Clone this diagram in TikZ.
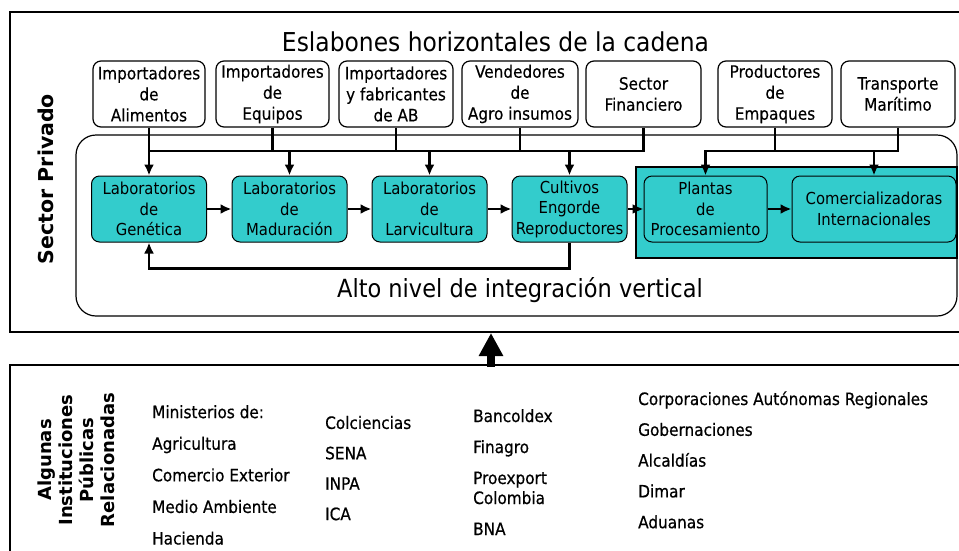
\documentclass[tikz,border=0pt]{standalone}
\usepackage{fontspec}
\setmainfont{DejaVu Sans Condensed}
\newfontfamily\heavyfont{DejaVu Sans}
\newfontfamily\boxfont{DejaVu Sans Condensed}[FakeBold=0.3]
\newfontfamily\listfont{DejaVu Sans Condensed}[FakeBold=0.6]
\usetikzlibrary{arrows.meta}
\definecolor{tealbox}{RGB}{51,204,204}

\begin{document}
\begin{tikzpicture}[x=1pt,y=-1pt,
    >={Latex[length=11pt,width=10pt]},
    topbox/.style={draw,rounded corners=8pt,line width=1.2pt,align=center,
      inner sep=1pt,minimum height=66pt,font=\fontsize{17}{21}\selectfont\boxfont},
    labbox/.style={draw,fill=tealbox,rounded corners=8pt,line width=1pt,align=center,
      inner sep=1pt,minimum height=66pt,font=\fontsize{16.5}{20.5}\selectfont},
    conn/.style={line width=2.8pt},
    lst/.style={anchor=base west,inner sep=0pt,font=\fontsize{17}{20}\selectfont\listfont},
  ]
  \useasboundingbox (0,0) rectangle (959,550);
  % marcos
  \draw[line width=1.6pt] (10,12) rectangle (975,332);
  \draw[line width=1.6pt] (10,365) rectangle (975,570);
  \draw[line width=1.2pt,rounded corners=20pt] (76,135) rectangle (957,316);
  \draw[fill=tealbox,line width=1.2pt] (636,167) rectangle (957,258);

  \node (titulo) at (495.5,42) {\fontsize{26}{30}\selectfont Eslabones horizontales de la cadena};
  \node[rotate=90,font=\fontsize{20.5}{24}\selectfont\heavyfont\bfseries] (privado) at (46,179) {Sector Privado};
  \node (integracion) at (520,290) {\fontsize{25}{30}\selectfont Alto nivel de integración vertical};

  % eslabones horizontales
  \node[topbox,minimum width=112pt] (impAlim) at (149,94) {Importadores\\de\\Alimentos};
  \node[topbox,minimum width=113pt] (impEq) at (272.5,94) {Importadores\\de\\Equipos};
  \node[topbox,minimum width=114pt] (impAB) at (396,94) {Importadores\\y fabricantes\\de AB};
  \node[topbox,minimum width=116pt] (vendAgro) at (520,94) {Vendedores\\de\\Agro insumos};
  \node[topbox,minimum width=115pt] (secFin) at (643.5,94) {Sector\\Financiero};
  \node[topbox,minimum width=114pt] (prodEmp) at (775,94) {Productores\\de\\Empaques};
  \node[topbox,minimum width=114pt] (transMar) at (898,94) {Transporte\\Marítimo};

  % cadena vertical
  \node[labbox,minimum width=115pt] (labGen) at (149,209) {Laboratorios\\de\\Genética};
  \node[labbox,minimum width=115pt] (labMad) at (289.5,209) {Laboratorios\\de\\Maduración};
  \node[labbox,minimum width=115pt] (labLarv) at (429.5,209) {Laboratorios\\de\\Larvicultura};
  \node[labbox,minimum width=115pt] (cultivos) at (569.5,209) {Cultivos\\Engorde\\Reproductores};
  \node[labbox,minimum width=123pt] (plantas) at (705.5,209) {Plantas\\de\\Procesamiento};
  \node[labbox,minimum width=164pt] (comerc) at (874,209) {Comercializadoras\\Internacionales};

  \coordinate (bus) at (0,151);
  \draw[conn] (impAlim.south |- bus) -- (secFin.south |- bus) -- (secFin.south);
  \draw[conn,->] (impAlim.south) -- (impAlim.south |- labGen.north);
  \foreach \n in {impEq,impAB,vendAgro,prodEmp}
    \draw[conn] (\n.south) -- (\n.south |- bus);
  \foreach \n in {labMad,labLarv,cultivos,comerc}
    \draw[conn,->] (\n.north |- bus) -- (\n.north);
  \draw[conn,->] (transMar.south) |- (plantas.north |- bus) -- (plantas.north);

  \draw[conn,->] (labGen) -- (labMad);
  \draw[conn,->] (labMad) -- (labLarv);
  \draw[conn,->] (labLarv) -- (cultivos);
  \draw[conn,->] (cultivos) -- (plantas);
  \draw[conn,->] (plantas) -- (comerc);
  \draw[conn,->] (cultivos.south) -- ++(0,26) -| (labGen.south);

  % sector publico
  \coordinate (publico) at (491,367);
  \coordinate (haciaPrivado) at (491,333);
  \draw[line width=8pt,-{Triangle[width=23pt,length=23pt]}] (publico) -- (haciaPrivado);

  \node[rotate=90,align=center,font=\fontsize{18}{21}\selectfont\heavyfont\bfseries] (algunas) at (76,460)
    {Algunas\\Instituciones\\Públicas\\Relacionadas};
  \foreach \t [count=\i] in {Ministerios de:,Agricultura,Comercio Exterior,Medio Ambiente,Hacienda}
    \node[lst] (minis\i) at (152,{386.5+31.6*\i}) {\t};
  \foreach \t [count=\i] in {Colciencias,SENA,INPA,ICA}
    \node[lst] (inst\i) at (325,{398.5+30.4*\i}) {\t};
  \node[lst] (bancoldex) at (473,422) {Bancoldex};
  \node[lst] (finagro) at (473,453) {Finagro};
  \node[lst] (proexport) at (473,484) {Proexport};
  \node[lst] (colombia) at (473,504) {Colombia};
  \node[lst] (bna) at (473,535) {BNA};
  \foreach \t [count=\i] in {Corporaciones Autónomas Regionales,Gobernaciones,Alcaldías,Dimar,Aduanas}
    \node[lst] (region\i) at (638,{374.2+30.8*\i}) {\t};
\end{tikzpicture}
\end{document}
